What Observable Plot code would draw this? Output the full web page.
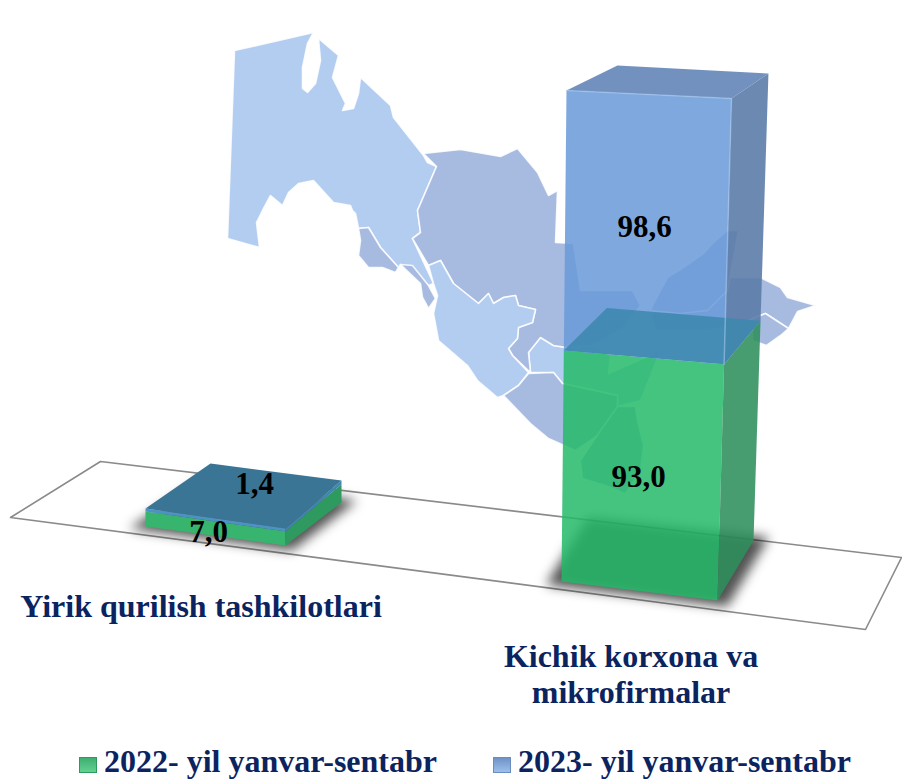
<!DOCTYPE html>
<html>
<head>
<meta charset="utf-8">
<script src="https://cdn.jsdelivr.net/npm/d3@7"></script>
<script src="https://cdn.jsdelivr.net/npm/@observablehq/plot@0.6"></script>
<style>
  html,body{margin:0;padding:0;background:#fff;overflow:hidden;width:902px;height:780px}
  #legend{position:relative;height:40px;width:902px;overflow:hidden;font-family:"Liberation Serif",serif;font-weight:bold;color:#0b2460}
  #legend .t{position:absolute;top:3px;font-size:32px;line-height:36px;white-space:nowrap}
  #legend .s{position:absolute;top:17px;width:18px;height:16px;box-sizing:border-box}
  svg{display:block}
</style>
</head>
<body>
<div id="chart"></div>
<div id="legend"></div>
<script>
// ---- data ----
const categories = ["Yirik qurilish tashkilotlari", "Kichik korxona va\nmikrofirmalar"];
const series = ["2022- yil yanvar-sentabr", "2023- yil yanvar-sentabr"];
const values2022 = [7.0, 93.0];
const values2023 = [1.4, 98.6];

// ---- backdrop shapes (picture pixels) ----
const floorOutline = [[100,461],[901,557],[865,629],[10,517]];
const mapLightWest = [[234,50],[313,32],[307,43],[302,67],[302,88],[307,92],[315,83],[320,60],[318,38],[338,55],[332,77],[340,93],[345,103],[342,110],[353,108],[358,93],[360,77],[390,105],[393,117],[423,155],[427,162],[436,166],[417,210],[420,232],[412,238],[433,283],[428,285],[400,264],[398,267],[380,247],[368,227],[358,228],[355,213],[352,210],[350,205],[333,202],[313,180],[298,183],[288,192],[282,205],[270,195],[262,210],[256,222],[259,247],[227,238]];
const mapKhorezm = [[358,228],[368,227],[380,247],[398,267],[395,272],[382,267],[368,267],[358,255],[360,240]];
const mapStrip = [[400,264],[412,265],[428,285],[435,298],[428,308],[422,297],[420,283]];
const mapBukhara = [[428,265],[440,260],[453,283],[478,303],[488,293],[493,303],[503,297],[515,295],[518,305],[535,309],[532,322],[518,327],[517,338],[508,348],[512,355],[528,372],[518,385],[503,395],[497,397],[477,380],[467,365],[438,340],[433,313],[437,295],[433,283]];
const mapDarkMain = [[423,153],[460,149],[500,156],[517,148],[537,172],[548,195],[557,190],[555,242],[573,243],[580,290],[632,290],[640,305],[622,328],[592,345],[566,347],[553,345],[540,337],[528,352],[530,372],[512,355],[508,348],[517,338],[518,327],[532,322],[535,309],[518,305],[515,295],[503,297],[493,303],[488,293],[478,303],[453,283],[440,260],[428,265],[412,238],[420,232],[417,210],[436,166]];
const mapLightMid = [[528,352],[540,337],[553,345],[566,347],[592,345],[610,355],[608,373],[650,355],[662,345],[640,400],[617,406],[600,430],[617,395],[562,383],[553,372],[530,372]];
const mapKashkadarya = [[503,395],[518,385],[528,373],[553,372],[562,383],[617,395],[617,420],[590,440],[575,450],[548,438],[530,423]];
const mapSurkhan = [[617,406],[635,406],[637,420],[643,445],[640,470],[625,493],[605,485],[582,478],[580,460],[600,430]];
const mapTashkent = [[738,230],[727,230],[713,242],[703,253],[683,267],[667,277],[653,303],[650,310],[680,313],[707,310],[727,290]];
const mapFergana = [[716,277],[760,277],[780,287],[787,297],[815,305],[797,311],[788,328],[765,313],[752,318],[735,325],[700,330],[655,330],[650,312],[707,310]];
const mapFerganaSouth = [[752,318],[765,313],[788,328],[780,335],[766,345],[752,340]];

// ---- projection of the tilted 3-D scene ----
const stepPx = 416;                 // screen pixels between the two category positions
const unitPx = 2.56;                // screen pixels per value unit on the y scale
const sx = px => (px - 145) / stepPx;
const sy = py => (526 - py) / unitPx;
const H = 740;
// a corner: [base x, base y, x drift per unit, y rise per unit] in screen terms
const barCorners = [
  {FL:[145,526,0,-2.27], FR:[285,545,0,-2.14], BR:[341,502,0,-2.77], BL:[210,483,0,-2.52]},
  {FL:[561,581,.026,-2.563], FR:[717,600,.073,-2.62], BR:[753,540,.078,-2.437], BL:[597,523,.104,-2.39]}
];
const vMax = d3.max(categories, (_, i) => values2022[i] + values2023[i]);
const foreshorten = v => { const t = v / vMax; return vMax * t / (t + (1 - t) * 1.062); };
const corner = (i, c, v) => {
  const g = barCorners[i][c], l = foreshorten(v);
  return {x: sx(g[0] + g[2] * l), y: sy(g[1] + g[3] * l)};
};
const toPoints = arr => arr.map(([a, b]) => ({x: sx(a), y: sy(b)}));
const area = (pts, o) => Plot.line(pts, {x: "x", y: "y", curve: "linear-closed", stroke: "none", ...o});

const front = (i, v0, v1) => [corner(i,"FL",v0), corner(i,"FR",v0), corner(i,"FR",v1), corner(i,"FL",v1)];
const right = (i, v0, v1) => [corner(i,"FR",v0), corner(i,"BR",v0), corner(i,"BR",v1), corner(i,"FR",v1)];
const top_  = (i, v)      => ["FL","FR","BR","BL"].map(c => corner(i,c,v));
const base  = (i, grow)   => { const q = top_(i, 0), cx = d3.mean(q, d => d.x), cy = d3.mean(q, d => d.y);
  return q.map(d => ({x: cx + (d.x - cx) * grow, y: cy + (d.y - cy) * grow})); };

// face styles per category
const faceStyles = [
  {gf:["#37b56e",1], gr:["#2f9a5f",1], gt:["#3a7697",1], bf:["#4c93c4",1], br:["#3f86b0",1], bt:["#3b7596",1]},
  {gf:["#24ba69",.85], gr:["#2f8f5c",.88], gt:["#3b88ad",.86], bf:["#699ad8",.85], br:["#5c7ca8",.9], bt:["#6688b8",.92]}
];

const barMarks = categories.flatMap((_, i) => {
  const a = values2022[i], b = a + values2023[i], s = faceStyles[i];
  const f = ([fill, fillOpacity]) => ({fill, fillOpacity});
  return [
    area(base(i, 1.16), {fill: "#000", fillOpacity: .68, imageFilter: "blur(6px)"}),
    area(front(i, 0, a), f(s.gf)),
    area(right(i, 0, a), f(s.gr)),
    area(right(i, a, b), f(s.br)),
    area(top_(i, b), f(s.bt)),
    area(front(i, a, b), f(s.bf)),
    ...(i === 1 ? [
      area(top_(i, a), f(s.gt)),
      Plot.line([corner(i,"FL",b), corner(i,"FR",b), corner(i,"FR",a)], {x: "x", y: "y", stroke: "#a8c8f0", strokeOpacity: .55, strokeWidth: 1.5})
    ] : [])
  ];
});

const valueLabels = [
  {t: values2022[0], px: 208, py: 532},
  {t: values2023[0], px: 254, py: 484},
  {t: values2022[1], px: 638, py: 477},
  {t: values2023[1], px: 644, py: 227}
].map(d => ({x: sx(d.px), y: sy(d.py), text: d.t.toFixed(1).replace(".", ",")}));

const categoryLabels = [
  {x: sx(200.5), y: sy(605), text: categories[0]},
  {x: sx(630.5), y: sy(673), text: categories[1]}
];

const mapMark = (arr, fill) => area(toPoints(arr), {fill, stroke: "#fff", strokeWidth: 1.6, strokeOpacity: .85});
const chart = Plot.plot({
  width: 902, height: H,
  marginTop: 0, marginRight: 0, marginBottom: 0, marginLeft: 0,
  x: {domain: [sx(0), sx(902)], range: [0, 902], axis: null},
  y: {domain: [sy(H), sy(0)], range: [H, 0], axis: null},
  style: {background: "#fff", fontFamily: "'Liberation Serif', serif"},
  marks: [
    mapMark(mapLightWest, "#b3cdf1"),
    mapMark(mapKhorezm, "#a7bae0"),
    mapMark(mapStrip, "#a7bae0"),
    mapMark(mapLightMid, "#b3cdf1"),
    mapMark(mapDarkMain, "#a7bae0"),
    mapMark(mapBukhara, "#b3cdf1"),
    mapMark(mapKashkadarya, "#a7bae0"),
    mapMark(mapSurkhan, "#a7bae0"),
    mapMark(mapFergana, "#a7bae0"),
    mapMark(mapFerganaSouth, "#a7bae0"),
    mapMark(mapTashkent, "#a7bae0"),
    Plot.line(toPoints(floorOutline), {x: "x", y: "y", curve: "linear-closed", stroke: "#8a8a8a", strokeWidth: 1.6, fill: "none"}),
    ...barMarks,
    Plot.text(valueLabels, {x: "x", y: "y", text: "text", fontSize: 31, fontWeight: "bold", fill: "#000", lineAnchor: "middle"}),
    Plot.text(categoryLabels, {x: "x", y: "y", text: "text", fontSize: 32, fontWeight: "bold", fill: "#0b2460", lineAnchor: "middle", lineHeight: 1.125})
  ]
});
document.getElementById("chart").append(chart);

// ---- legend below the SVG ----
const legend = document.getElementById("legend");
const legendStyle = [
  {left: 79, text: 104, bg: "linear-gradient(#3fae72,#62d08f)", bd: "#2f9a5f"},
  {left: 493, text: 518, bg: "linear-gradient(#6f92c6,#9cc0ea)", bd: "#6a8dbf"}
];
series.forEach((name, i) => {
  const st = legendStyle[i];
  const sw = document.createElement("span");
  sw.className = "s"; sw.style.left = st.left + "px"; sw.style.background = st.bg; sw.style.border = "1px solid " + st.bd;
  const tx = document.createElement("span");
  tx.className = "t"; tx.style.left = st.text + "px"; tx.textContent = name;
  legend.append(sw, tx);
});
</script>
</body>
</html>
